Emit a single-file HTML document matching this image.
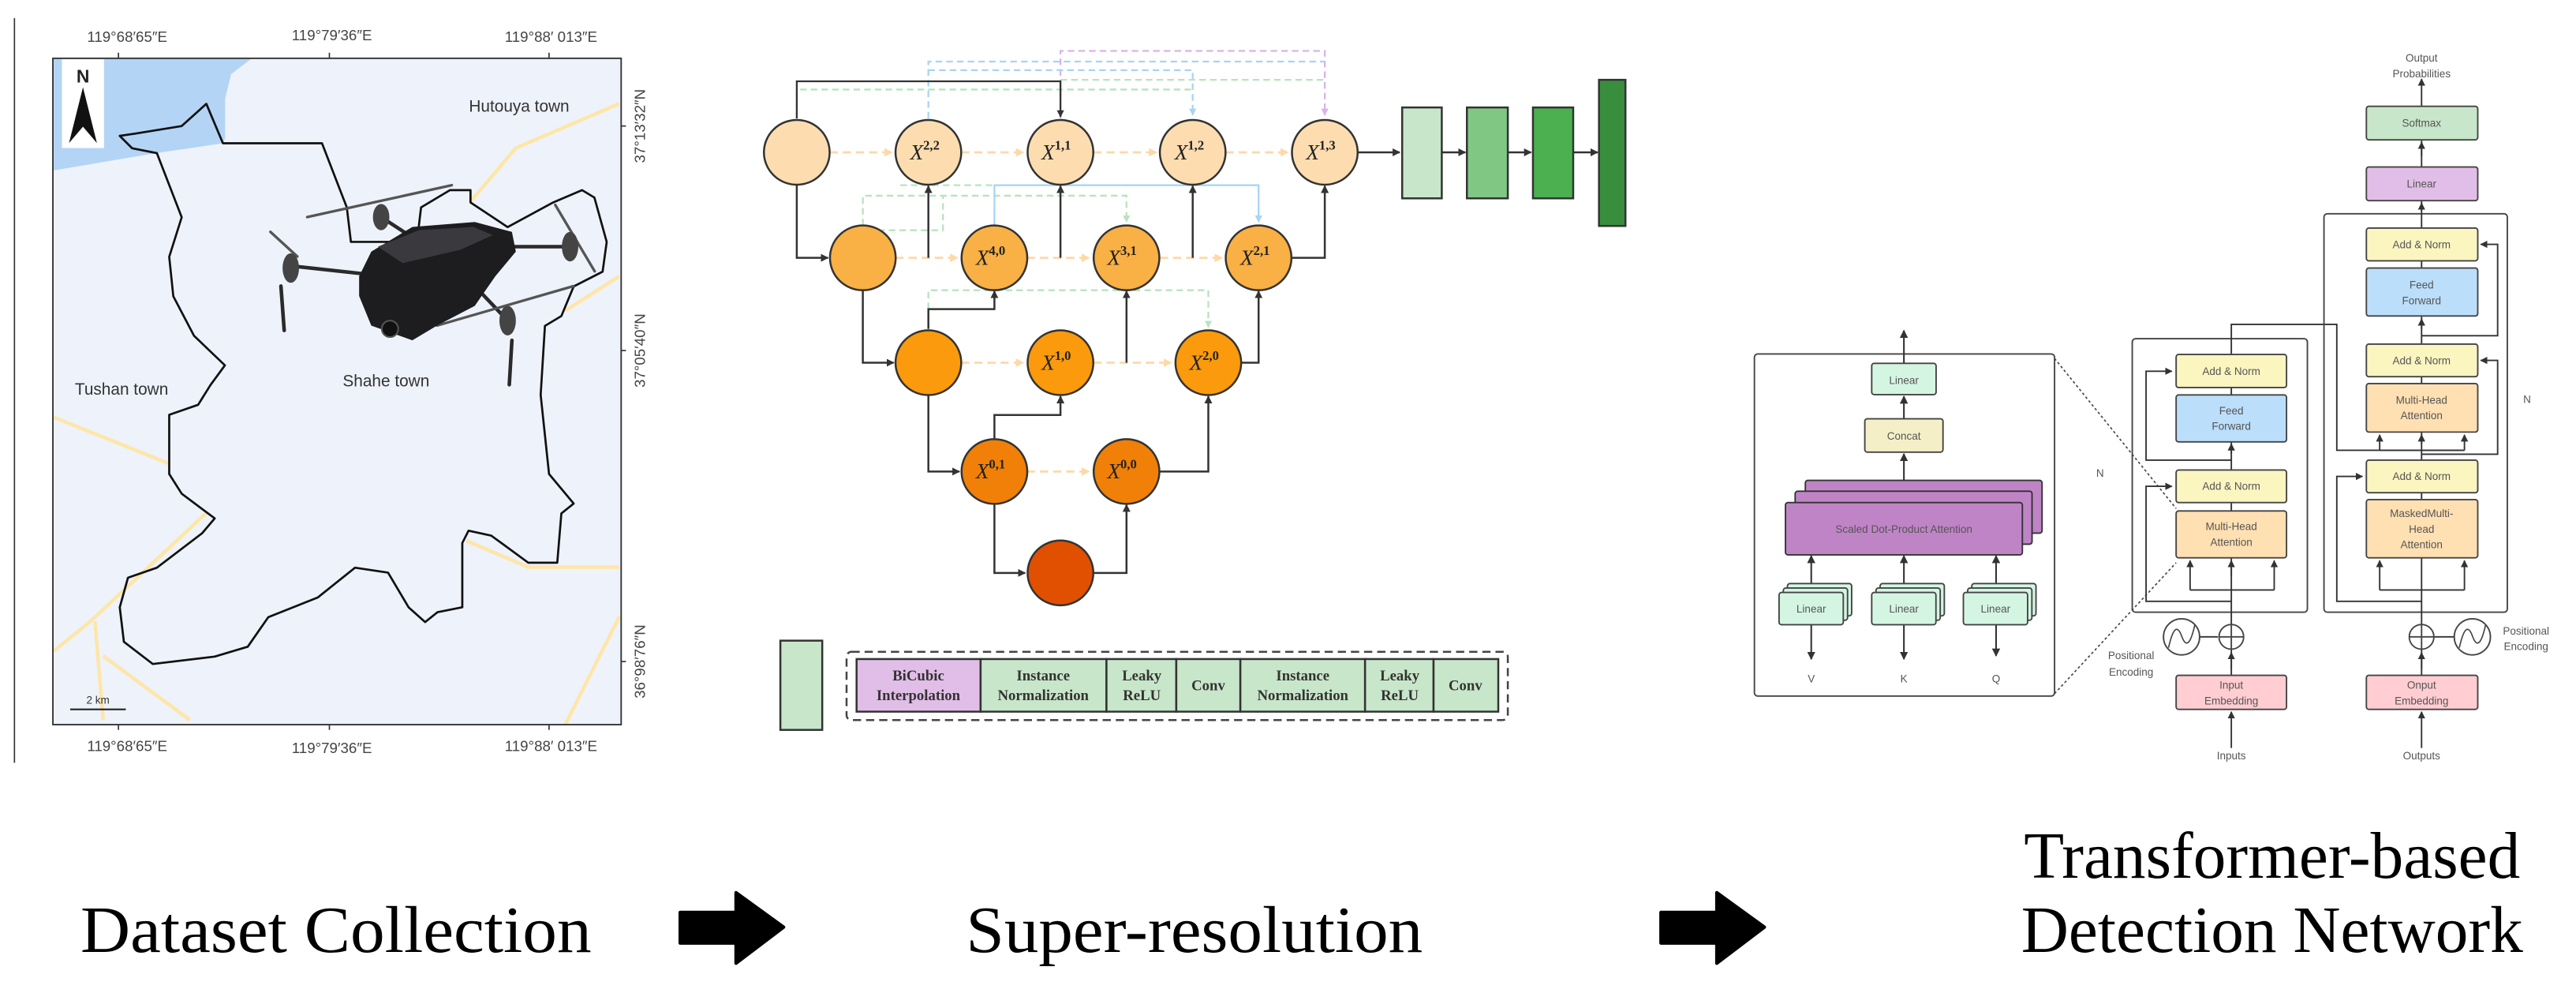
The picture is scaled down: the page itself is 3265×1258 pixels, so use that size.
<!DOCTYPE html>
<html><head><meta charset="utf-8"><style>
html,body{margin:0;padding:0;background:#fff;}
svg{display:block;}
.t{font-family:"Liberation Sans",sans-serif;fill:#555;}
.s{font-family:"Liberation Serif",serif;}
</style></head><body>
<svg width="3265" height="1258" viewBox="0 0 1568 604" xmlns="http://www.w3.org/2000/svg">
<defs>
<marker id="a" viewBox="0 0 10 10" refX="9" refY="5" markerWidth="4" markerHeight="4" orient="auto"><path d="M0,0L10,5L0,10z" fill="#333"/></marker>
<marker id="ao" viewBox="0 0 10 10" refX="9" refY="5" markerWidth="4" markerHeight="4" orient="auto"><path d="M0,0L10,5L0,10z" fill="#FDD9A8"/></marker>
<marker id="ag" viewBox="0 0 10 10" refX="9" refY="5" markerWidth="4" markerHeight="4" orient="auto"><path d="M0,0L10,5L0,10z" fill="#B9E3C0"/></marker>
<marker id="ab" viewBox="0 0 10 10" refX="9" refY="5" markerWidth="4" markerHeight="4" orient="auto"><path d="M0,0L10,5L0,10z" fill="#A8D4F5"/></marker>
<marker id="ap" viewBox="0 0 10 10" refX="9" refY="5" markerWidth="4" markerHeight="4" orient="auto"><path d="M0,0L10,5L0,10z" fill="#D9B3EA"/></marker>
<marker id="at" viewBox="0 0 10 10" refX="9" refY="5" markerWidth="5" markerHeight="5" orient="auto"><path d="M0,0L10,5L0,10z" fill="#333"/></marker>
</defs>
<rect width="1568" height="604" fill="#fff"/>

<!-- ============ MAP ============ -->
<line x1="8.8" y1="11" x2="8.8" y2="464" stroke="#333" stroke-width="0.8"/>
<rect x="32.2" y="35.4" width="345.9" height="405.4" fill="#EEF2FA"/>
<polygon points="32.7,35.4 153.3,35.4 140.7,45 137,60 137,84 135.7,87.1 95.5,93 32.7,103.6" fill="#B3D4F5"/>
<g stroke="#FDE6A8" stroke-width="2.2" fill="none">
<polyline points="376.9,63 314,90 286,123"/>
<polyline points="344,189 377,168"/>
<polyline points="32.7,253.8 103,282"/>
<polyline points="32.7,396 55,378 125.6,312"/>
<polyline points="284,329 321.6,345 377,345"/>
<polyline points="344,441 377,375"/>
<polyline points="57.8,378 62.8,438"/>
<polyline points="62.8,399 115.6,438"/>
</g>
<polygon fill="none" stroke="#111" stroke-width="1.3" stroke-linejoin="round" points="72.9,82.6 80.4,90.1 95.5,93.1 110.6,132.1 103,156.2 105.5,180.2 118.1,204.2 136.9,222.2 128.1,234.2 120.6,246.2 103,252.3 103,288.3 110.6,300.3 130.7,315.3 123.1,324.3 95.5,345.3 77.9,351.4 72.9,369.4 75.4,390.4 93,403.9 130.7,399.4 150.8,393.4 163.3,375.4 193.5,363.4 216.1,345.3 236.2,348.3 248.7,369.4 258.8,378.4 266.3,372.4 281.4,369.4 281.4,330.3 285.2,322.8 299,325.8 321.6,342.3 339.2,342.3 341.7,312.3 349.2,306.3 334.2,288.3 329.1,240.2 331.7,198.2 341.7,192.2 349.2,174.2 366.8,165.2 369.3,147.1 361.8,120.1 354.3,115.6 336.7,123.1 309,138.1 286.4,123.1 286.4,115.6 273.9,115.6 256.3,126.1 253.8,147.1 213.6,147.1 211.1,126.1 196,87.1 135.7,87.1 125.6,63.1 110.6,76.6 82.9,81.1"/>
<rect x="32.2" y="35.4" width="345.9" height="405.4" fill="none" stroke="#333" stroke-width="0.9"/>
<!-- ticks -->
<g stroke="#333" stroke-width="0.8">
<line x1="72.1" y1="32" x2="72.1" y2="35.4"/><line x1="200.5" y1="32" x2="200.5" y2="35.4"/><line x1="334.2" y1="32" x2="334.2" y2="35.4"/>
<line x1="72.1" y1="440.8" x2="72.1" y2="444"/><line x1="200.5" y1="440.8" x2="200.5" y2="444"/><line x1="334.2" y1="440.8" x2="334.2" y2="444"/>
<line x1="378" y1="76.6" x2="381" y2="76.6"/><line x1="378" y1="213.2" x2="381" y2="213.2"/><line x1="378" y1="402.4" x2="381" y2="402.4"/>
</g>
<g class="t" font-size="9" fill="#444" text-anchor="middle" style="fill:#444">
<text x="77.4" y="25.5">119°68′65″E</text><text x="202" y="24.5">119°79′36″E</text><text x="335.4" y="25.5">119°88′ 013″E</text>
<text x="77.4" y="457">119°68′65″E</text><text x="202" y="458">119°79′36″E</text><text x="335.4" y="457">119°88′ 013″E</text>
<text transform="translate(392.5,76.6) rotate(-90)">37°13′32″N</text>
<text transform="translate(392.5,213.2) rotate(-90)">37°05′40″N</text>
<text transform="translate(392.5,402.4) rotate(-90)">36°98′76″N</text>
</g>
<g class="t" font-size="10" style="fill:#333">
<text x="316" y="68" text-anchor="middle">Hutouya town</text>
<text x="235" y="235" text-anchor="middle">Shahe town</text>
<text x="74" y="240" text-anchor="middle">Tushan town</text>
</g>
<rect x="37.7" y="36" width="25.6" height="54" fill="#fff"/>
<text x="50.5" y="50" class="t" font-size="11" font-weight="bold" text-anchor="middle" style="fill:#222">N</text>
<polygon points="50.5,53 59,87 50.5,77 42,87" fill="#111"/>
<line x1="42.7" y1="431.5" x2="76.6" y2="431.5" stroke="#222" stroke-width="1"/>
<text x="59.6" y="428" class="t" font-size="6.5" text-anchor="middle" style="fill:#333">2 km</text>
<!-- drone -->
<g>
<g stroke="#2a2a2a" stroke-width="2.2" stroke-linecap="round">
<line x1="180" y1="162" x2="235" y2="168"/><line x1="232" y1="132" x2="252" y2="145"/>
<line x1="300" y1="150" x2="347" y2="150"/><line x1="290" y1="175" x2="309" y2="195"/>
<line x1="171" y1="174" x2="173" y2="201"/><line x1="311.6" y1="207" x2="310" y2="234"/>
</g>
<g stroke="#555" stroke-width="1.6" stroke-linecap="round">
<line x1="187" y1="132" x2="275" y2="112.6"/><line x1="164.6" y1="141" x2="181" y2="156"/>
<line x1="338" y1="124.6" x2="362" y2="165"/><line x1="266" y1="198" x2="349" y2="174"/>
</g>
<ellipse cx="232" cy="132" rx="5" ry="8" fill="#444"/><ellipse cx="177" cy="163" rx="5" ry="9" fill="#444"/>
<ellipse cx="347" cy="150" rx="5" ry="9" fill="#444"/><ellipse cx="309" cy="195" rx="5" ry="9" fill="#444"/>
<polygon points="218.6,168 226,153 251,138 289,135 311.6,141 314,153 301.5,168 289,186 266,198 251,207 226,198 218.6,180" fill="#1d1d1f"/>
<polygon points="230,150 255,140 288,138 300,143 280,152 245,160" fill="#3a3a3e"/>
<circle cx="237.4" cy="200" r="5" fill="#111" stroke="#555" stroke-width="1"/>
</g>

<!-- ============ SUPER-RESOLUTION ============ -->
<!-- skip lines top -->
<g fill="none" stroke-width="1.1" stroke-dasharray="4,2.5">
<polyline points="645.5,72 645.5,30.9 806.4,30.9 806.4,70" stroke="#D9B3EA" marker-end="url(#ap)"/>
<polyline points="565.1,72 565.1,37.4 806.4,37.4" stroke="#A8D4F5"/>
<polyline points="565.1,42.6 726,42.6 726,70" stroke="#A8D4F5" marker-end="url(#ab)"/>
<polyline points="645.5,48.5 806.4,48.5" stroke="#B9E3C0"/>
<polyline points="487,54.4 726,54.4" stroke="#B9E3C0"/>
<polyline points="485,72 485,54.4" stroke="#B9E3C0"/>
<polyline points="525.2,137 525.2,119 685.7,119 685.7,135" stroke="#B9E3C0" marker-end="url(#ag)"/>
<polyline points="548,112.6 766.1,112.6" stroke="#B9E3C0"/>
<polyline points="565.1,201 565.1,176.5 735.5,176.5 735.5,199" stroke="#B9E3C0" marker-end="url(#ag)"/>
<polyline points="528,140 574,140 574,119" stroke="#B9E3C0"/>
</g>
<polyline points="605.3,137 605.3,112.6 766.1,112.6 766.1,135" fill="none" stroke="#A8D4F5" stroke-width="1.1" marker-end="url(#ab)"/>
<polyline points="485,72 485,49.4 645.5,49.4 645.5,71" fill="none" stroke="#333" stroke-width="1.1" marker-end="url(#a)"/>
<!-- dashed orange horizontals -->
<g stroke="#FDD9A8" stroke-width="1.3" stroke-dasharray="5,3" marker-end="url(#ao)">
<line x1="505" y1="92.6" x2="543" y2="92.6"/><line x1="585" y1="92.6" x2="623" y2="92.6"/>
<line x1="665.5" y1="92.6" x2="704" y2="92.6"/><line x1="746" y1="92.6" x2="784" y2="92.6"/>
<line x1="545" y1="156.8" x2="583" y2="156.8"/><line x1="625" y1="156.8" x2="663" y2="156.8"/><line x1="706" y1="156.8" x2="744" y2="156.8"/>
<line x1="585" y1="220.6" x2="623" y2="220.6"/><line x1="665.5" y1="220.6" x2="713" y2="220.6"/>
<line x1="625" y1="286.8" x2="663" y2="286.8"/>
</g>
<!-- solid connectors -->
<g fill="none" stroke="#333" stroke-width="1.2" marker-end="url(#a)">
<polyline points="485,112 485,156.8 504,156.8"/>
<polyline points="525.2,176 525.2,220.6 544,220.6"/>
<polyline points="565.1,240 565.1,286.8 584,286.8"/>
<polyline points="605.3,306 605.3,348.5 624,348.5"/>
<polyline points="665,348.5 685.7,348.5 685.7,307"/>
<polyline points="705.7,286.8 735.5,286.8 735.5,241"/>
<polyline points="755.5,220.6 766.1,220.6 766.1,177"/>
<polyline points="786,156.8 806.4,156.8 806.4,113"/>
<polyline points="605.3,267 605.3,252.4 645.5,252.4 645.5,241"/>
<polyline points="685.7,220.6 685.7,177"/>
<polyline points="565.1,200 565.1,188 605.3,188 605.3,177"/>
<polyline points="565.1,156.8 565.1,113"/>
<polyline points="645.5,156.8 645.5,113"/>
<polyline points="726,156.8 726,113"/>
<polyline points="826.4,92.6 852,92.6"/>
<polyline points="877.6,92.6 892,92.6"/>
<polyline points="917.8,92.6 932,92.6"/>
<polyline points="957.6,92.6 972.5,92.6"/>
</g>
<!-- nodes -->
<g stroke="#333" stroke-width="1.2">
<g fill="#FDDDB0">
<ellipse cx="485" cy="92.6" rx="20" ry="19.7"/><ellipse cx="565.1" cy="92.6" rx="20" ry="19.7"/><ellipse cx="645.5" cy="92.6" rx="20" ry="19.7"/><ellipse cx="726" cy="92.6" rx="20" ry="19.7"/><ellipse cx="806.4" cy="92.6" rx="20" ry="19.7"/>
</g>
<g fill="#F9B044">
<ellipse cx="525.2" cy="156.8" rx="20" ry="19.7"/><ellipse cx="605.3" cy="156.8" rx="20" ry="19.7"/><ellipse cx="685.7" cy="156.8" rx="20" ry="19.7"/><ellipse cx="766.1" cy="156.8" rx="20" ry="19.7"/>
</g>
<g fill="#FA9A0C">
<ellipse cx="565.1" cy="220.6" rx="20" ry="19.7"/><ellipse cx="645.5" cy="220.6" rx="20" ry="19.7"/><ellipse cx="735.5" cy="220.6" rx="20" ry="19.7"/>
</g>
<g fill="#F08008">
<ellipse cx="605.3" cy="286.8" rx="20" ry="19.7"/><ellipse cx="685.7" cy="286.8" rx="20" ry="19.7"/>
</g>
<ellipse cx="645.5" cy="348.5" rx="20" ry="19.7" fill="#E05000"/>
</g>
<g class="s" font-size="13" font-style="italic" fill="#222">
<text x="554" y="97">X<tspan font-size="8" font-style="normal" font-weight="bold" dy="-6">2,2</tspan></text>
<text x="634" y="97">X<tspan font-size="8" font-style="normal" font-weight="bold" dy="-6">1,1</tspan></text>
<text x="715" y="97">X<tspan font-size="8" font-style="normal" font-weight="bold" dy="-6">1,2</tspan></text>
<text x="795" y="97">X<tspan font-size="8" font-style="normal" font-weight="bold" dy="-6">1,3</tspan></text>
<text x="594" y="161">X<tspan font-size="8" font-style="normal" font-weight="bold" dy="-6">4,0</tspan></text>
<text x="674" y="161">X<tspan font-size="8" font-style="normal" font-weight="bold" dy="-6">3,1</tspan></text>
<text x="755" y="161">X<tspan font-size="8" font-style="normal" font-weight="bold" dy="-6">2,1</tspan></text>
<text x="634" y="225">X<tspan font-size="8" font-style="normal" font-weight="bold" dy="-6">1,0</tspan></text>
<text x="724" y="225">X<tspan font-size="8" font-style="normal" font-weight="bold" dy="-6">2,0</tspan></text>
<text x="594" y="291">X<tspan font-size="8" font-style="normal" font-weight="bold" dy="-6">0,1</tspan></text>
<text x="674" y="291">X<tspan font-size="8" font-style="normal" font-weight="bold" dy="-6">0,0</tspan></text>
</g>
<g stroke="#333" stroke-width="1.2">
<rect x="853.5" y="65.3" width="24.1" height="55.3" fill="#C8E6C9"/>
<rect x="892.9" y="65.3" width="24.9" height="55.3" fill="#81C784"/>
<rect x="933.1" y="65.3" width="24.5" height="55.3" fill="#4CAF50"/>
<rect x="973.3" y="48.5" width="16.1" height="88.9" fill="#388E3C"/>
</g>
<!-- legend -->
<rect x="475" y="389.7" width="25.5" height="54.3" fill="#C8E6C9" stroke="#333" stroke-width="1.2"/>
<rect x="515.3" y="396.5" width="402.5" height="41.5" rx="3" fill="none" stroke="#444" stroke-width="1.2" stroke-dasharray="5,3"/>
<g stroke="#333" stroke-width="1.2">
<rect x="521.4" y="400.9" width="75.5" height="32" fill="#E1BEE7"/>
<rect x="596.9" y="400.9" width="76.6" height="32" fill="#C8E6C9"/>
<rect x="673.5" y="400.9" width="42.5" height="32" fill="#C8E6C9"/>
<rect x="716" y="400.9" width="39" height="32" fill="#C8E6C9"/>
<rect x="755" y="400.9" width="75.9" height="32" fill="#C8E6C9"/>
<rect x="830.9" y="400.9" width="41.7" height="32" fill="#C8E6C9"/>
<rect x="872.6" y="400.9" width="39.4" height="32" fill="#C8E6C9"/>
</g>
<g class="s" font-size="9" font-weight="bold" fill="#333" text-anchor="middle">
<text x="559" y="414">BiCubic</text><text x="559" y="426">Interpolation</text>
<text x="635" y="414">Instance</text><text x="635" y="426">Normalization</text>
<text x="695" y="414">Leaky</text><text x="695" y="426">ReLU</text>
<text x="735.5" y="420">Conv</text>
<text x="793" y="414">Instance</text><text x="793" y="426">Normalization</text>
<text x="852" y="414">Leaky</text><text x="852" y="426">ReLU</text>
<text x="892" y="420">Conv</text>
</g>

<!-- ============ TRANSFORMER ============ -->
<g class="t" font-size="6.5" text-anchor="middle">
<!-- detail box -->
<rect x="1067.9" y="215.3" width="182.7" height="208.1" rx="2" fill="#fff" stroke="#444" stroke-width="0.9"/>
<line x1="1250.6" y1="218" x2="1324.6" y2="309.3" stroke="#444" stroke-width="0.8" stroke-dasharray="1.5,1.5"/>
<line x1="1250.6" y1="421.9" x2="1324.6" y2="342.3" stroke="#444" stroke-width="0.8" stroke-dasharray="1.5,1.5"/>
<g stroke="#333" stroke-width="1" fill="none" marker-end="url(#at)">
<line x1="1158.9" y1="221" x2="1158.9" y2="201"/>
<line x1="1158.9" y1="254.7" x2="1158.9" y2="241"/>
<line x1="1158.9" y1="292" x2="1158.9" y2="276"/>
<line x1="1102.5" y1="360" x2="1102.5" y2="338"/><line x1="1158.9" y1="360" x2="1158.9" y2="338"/><line x1="1215" y1="360" x2="1215" y2="338"/>
<line x1="1102.5" y1="380" x2="1102.5" y2="401"/><line x1="1158.9" y1="380" x2="1158.9" y2="401"/><line x1="1215" y1="380" x2="1215" y2="399"/>
</g>
<rect x="1139.3" y="221" width="39.2" height="19" rx="1.5" fill="#D5F5E3" stroke="#444" stroke-width="0.9"/><text x="1158.9" y="233.5">Linear</text>
<rect x="1135.1" y="254.7" width="47.6" height="20.3" rx="1.5" fill="#F5EFC8" stroke="#444" stroke-width="0.9"/><text x="1158.9" y="267.5">Concat</text>
<rect x="1098.9" y="292.2" width="144.1" height="32.1" rx="1.5" fill="#BF84C6" stroke="#333" stroke-width="0.9"/>
<rect x="1092.7" y="298.8" width="144.2" height="32.2" rx="1.5" fill="#BF84C6" stroke="#333" stroke-width="0.9"/>
<rect x="1086.8" y="305.7" width="144.2" height="31.8" rx="1.5" fill="#BF84C6" stroke="#333" stroke-width="0.9"/>
<text x="1158.9" y="324">Scaled Dot-Product Attention</text>
<g fill="#D5F5E3" stroke="#444" stroke-width="0.9">
<rect x="1088" y="355" width="39.1" height="19.6" rx="1.5"/><rect x="1085.5" y="357.7" width="39.1" height="19.6" rx="1.5"/><rect x="1082.9" y="360.4" width="39.1" height="19.6" rx="1.5"/>
<rect x="1144.4" y="355" width="39.1" height="19.6" rx="1.5"/><rect x="1141.9" y="357.7" width="39.1" height="19.6" rx="1.5"/><rect x="1139.3" y="360.4" width="39.1" height="19.6" rx="1.5"/>
<rect x="1200.2" y="355" width="39.1" height="19.6" rx="1.5"/><rect x="1197.7" y="357.7" width="39.1" height="19.6" rx="1.5"/><rect x="1195.1" y="360.4" width="39.1" height="19.6" rx="1.5"/>
</g>
<text x="1102.5" y="372.5">Linear</text><text x="1158.9" y="372.5">Linear</text><text x="1214.7" y="372.5">Linear</text>
<text x="1102.5" y="415">V</text><text x="1158.9" y="415">K</text><text x="1215" y="415">Q</text>

<!-- encoder -->
<rect x="1297.9" y="206" width="106.6" height="166.4" rx="2" fill="none" stroke="#444" stroke-width="0.9"/>
<text x="1278.3" y="290">N</text>
<g stroke="#333" stroke-width="0.9" fill="none">
<line x1="1358.2" y1="410.8" x2="1358.2" y2="215.6"/>
<polyline points="1358.2,365.8 1306.3,365.8 1306.3,295.8 1322,295.8" marker-end="url(#at)"/>
<polyline points="1358.2,279.9 1306.3,279.9 1306.3,225.8 1322,225.8" marker-end="url(#at)"/>
<polyline points="1333.1,358.9 1333.1,341" marker-end="url(#at)"/>
<polyline points="1384.3,358.9 1384.3,341" marker-end="url(#at)"/>
<line x1="1333.1" y1="358.9" x2="1384.3" y2="358.9"/>
<line x1="1358.2" y1="350" x2="1358.2" y2="341" marker-end="url(#at)"/>
<line x1="1358.2" y1="276" x2="1358.2" y2="270" marker-end="url(#at)"/>
<line x1="1358.2" y1="407" x2="1358.2" y2="397" marker-end="url(#at)"/>
<line x1="1358.2" y1="455" x2="1358.2" y2="433" marker-end="url(#at)"/>
<polyline points="1358.2,215.6 1358.2,197.3 1422.4,197.3 1422.4,273.9 1500.1,273.9"/>
<line x1="1339" y1="387.4" x2="1350" y2="387.4"/>
</g>
<rect x="1324.6" y="215.6" width="67.2" height="20.1" rx="1.5" fill="#FBF5C0" stroke="#444" stroke-width="0.9"/><text x="1358.2" y="228">Add &amp; Norm</text>
<rect x="1324.6" y="240.2" width="67.2" height="28.6" rx="1.5" fill="#BBDEFB" stroke="#444" stroke-width="0.9"/><text x="1358.2" y="252">Feed</text><text x="1358.2" y="261.5">Forward</text>
<rect x="1324.6" y="285.9" width="67.2" height="19.8" rx="1.5" fill="#FBF5C0" stroke="#444" stroke-width="0.9"/><text x="1358.2" y="298">Add &amp; Norm</text>
<rect x="1324.6" y="310.8" width="67.2" height="28.5" rx="1.5" fill="#FFE0B2" stroke="#444" stroke-width="0.9"/><text x="1358.2" y="322.5">Multi-Head</text><text x="1358.2" y="332">Attention</text>
<circle cx="1327.9" cy="387.4" r="11" fill="#fff" stroke="#444" stroke-width="0.9"/>
<path d="M1320,394 Q1324,376 1328,387 Q1332,398 1336,380" fill="none" stroke="#444" stroke-width="0.8"/>
<circle cx="1358.2" cy="387.4" r="7.5" fill="#fff" stroke="#444" stroke-width="0.9"/>
<path d="M1350.7,387.4H1365.7M1358.2,379.9V394.9" stroke="#444" stroke-width="0.9"/>
<text x="1297.2" y="401">Positional</text><text x="1297.2" y="411">Encoding</text>
<rect x="1324.6" y="410.8" width="67.2" height="20.7" rx="1.5" fill="#FFCDD2" stroke="#444" stroke-width="0.9"/><text x="1358.2" y="419">Input</text><text x="1358.2" y="428.5">Embedding</text>
<text x="1358.2" y="462">Inputs</text>

<!-- decoder -->
<rect x="1414.6" y="130" width="111.6" height="242.4" rx="2" fill="none" stroke="#444" stroke-width="0.9"/>
<text x="1538.2" y="245">N</text>
<g stroke="#333" stroke-width="0.9" fill="none">
<line x1="1474" y1="410.8" x2="1474" y2="48" marker-end="url(#at)"/>
<polyline points="1474,365.8 1422.4,365.8 1422.4,289.8 1438,289.8" marker-end="url(#at)"/>
<polyline points="1474,276.3 1520.3,276.3 1520.3,219.2 1510,219.2" marker-end="url(#at)"/>
<polyline points="1474,204.2 1520.3,204.2 1520.3,148.6 1510,148.6" marker-end="url(#at)"/>
<line x1="1448.5" y1="358.9" x2="1500.1" y2="358.9"/>
<line x1="1448.5" y1="358.9" x2="1448.5" y2="341" marker-end="url(#at)"/>
<line x1="1500.1" y1="358.9" x2="1500.1" y2="341" marker-end="url(#at)"/>
<line x1="1448.5" y1="273.9" x2="1448.5" y2="264.5" marker-end="url(#at)"/>
<line x1="1500.1" y1="273.9" x2="1500.1" y2="264.5" marker-end="url(#at)"/>
<line x1="1448.5" y1="273.9" x2="1500.1" y2="273.9"/>
<line x1="1474" y1="270" x2="1474" y2="264.5" marker-end="url(#at)"/>
<line x1="1474" y1="200" x2="1474" y2="194" marker-end="url(#at)"/>
<line x1="1474" y1="128" x2="1474" y2="123.5" marker-end="url(#at)"/>
<line x1="1474" y1="95" x2="1474" y2="86.5" marker-end="url(#at)"/>
<line x1="1474" y1="455" x2="1474" y2="433" marker-end="url(#at)"/>
<line x1="1474" y1="407" x2="1474" y2="397" marker-end="url(#at)"/>
<line x1="1481.5" y1="387.4" x2="1494" y2="387.4"/>
</g>
<text x="1474" y="37.5">Output</text><text x="1474" y="47">Probabilities</text>
<rect x="1440.4" y="64.6" width="67.8" height="20.4" rx="1.5" fill="#C8E6C9" stroke="#444" stroke-width="0.9"/><text x="1474" y="77">Softmax</text>
<rect x="1440.4" y="101.5" width="67.8" height="20.5" rx="1.5" fill="#E1BEE7" stroke="#444" stroke-width="0.9"/><text x="1474" y="114">Linear</text>
<rect x="1440.4" y="138.7" width="67.8" height="19.9" rx="1.5" fill="#FBF5C0" stroke="#444" stroke-width="0.9"/><text x="1474" y="151">Add &amp; Norm</text>
<rect x="1440.4" y="163" width="67.8" height="29.2" rx="1.5" fill="#BBDEFB" stroke="#444" stroke-width="0.9"/><text x="1474" y="175.5">Feed</text><text x="1474" y="185">Forward</text>
<rect x="1440.4" y="209.3" width="67.8" height="19.8" rx="1.5" fill="#FBF5C0" stroke="#444" stroke-width="0.9"/><text x="1474" y="221.5">Add &amp; Norm</text>
<rect x="1440.4" y="233.3" width="67.8" height="29.5" rx="1.5" fill="#FFE0B2" stroke="#444" stroke-width="0.9"/><text x="1474" y="245.5">Multi-Head</text><text x="1474" y="255">Attention</text>
<rect x="1440.4" y="279.9" width="67.8" height="19.8" rx="1.5" fill="#FBF5C0" stroke="#444" stroke-width="0.9"/><text x="1474" y="292">Add &amp; Norm</text>
<rect x="1440.4" y="303.9" width="67.8" height="35.4" rx="1.5" fill="#FFE0B2" stroke="#444" stroke-width="0.9"/><text x="1474" y="314.5">MaskedMulti-</text><text x="1474" y="324">Head</text><text x="1474" y="333.5">Attention</text>
<circle cx="1474" cy="387.4" r="7.5" fill="#fff" stroke="#444" stroke-width="0.9"/>
<path d="M1466.5,387.4H1481.5M1474,379.9V394.9" stroke="#444" stroke-width="0.9"/>
<circle cx="1504.9" cy="387.4" r="11" fill="#fff" stroke="#444" stroke-width="0.9"/>
<path d="M1497,394 Q1501,376 1505,387 Q1509,398 1513,380" fill="none" stroke="#444" stroke-width="0.8"/>
<text x="1537.6" y="386">Positional</text><text x="1537.6" y="395.5">Encoding</text>
<rect x="1440.4" y="410.8" width="67.8" height="20.7" rx="1.5" fill="#FFCDD2" stroke="#444" stroke-width="0.9"/><text x="1474" y="419">Onput</text><text x="1474" y="428.5">Embedding</text>
<text x="1474" y="462">Outputs</text>
</g>

<!-- ============ BOTTOM LABELS ============ -->
<g class="s" font-size="40" fill="#000">
<text x="49" y="579" textLength="311" lengthAdjust="spacingAndGlyphs">Dataset Collection</text>
<text x="588" y="579" textLength="278" lengthAdjust="spacingAndGlyphs">Super-resolution</text>
<text x="1383" y="534" text-anchor="middle">Transformer-based</text>
<text x="1383" y="579" text-anchor="middle">Detection Network</text>
</g>
<path d="M414,555 H448 V543 L477,564 L448,586 V573.7 H414 Z" fill="#000" stroke="#000" stroke-width="2" stroke-linejoin="round"/>
<path d="M1011,555 H1045 V543 L1074,564 L1045,586 V573.7 H1011 Z" fill="#000" stroke="#000" stroke-width="2" stroke-linejoin="round"/>
</svg>
</body></html>
